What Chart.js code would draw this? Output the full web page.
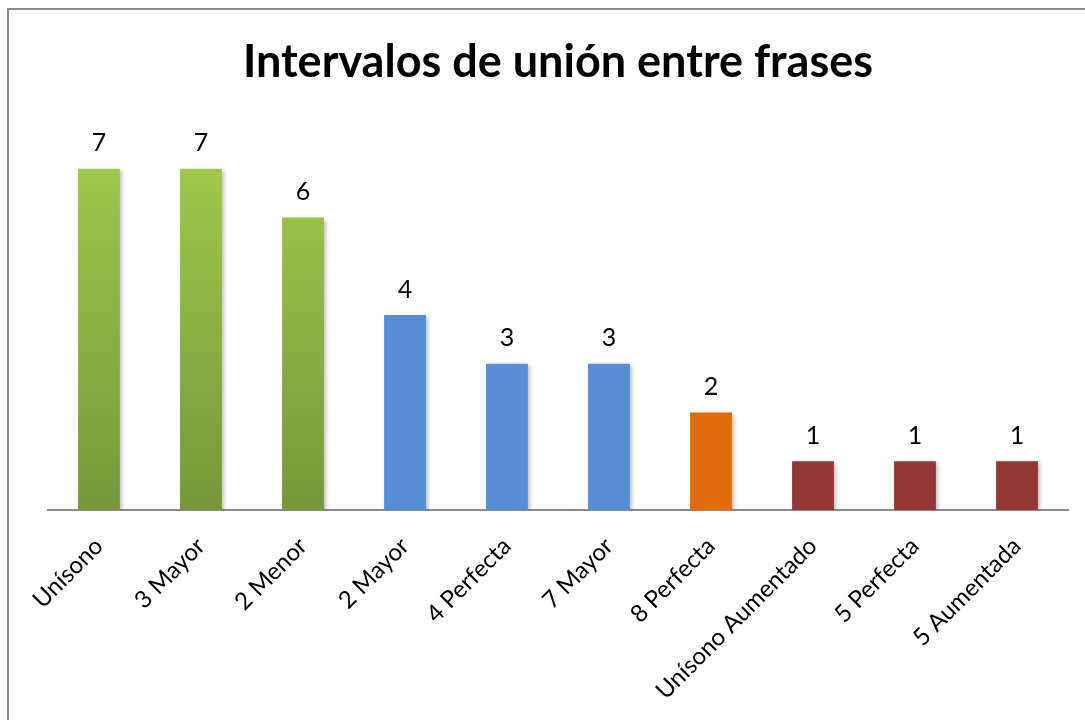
<!DOCTYPE html>
<html>
<head>
<meta charset="utf-8">
<script src="https://cdn.jsdelivr.net/npm/chart.js@4/dist/chart.umd.min.js"></script>
<style>
  body { margin: 0; background: #fff; }
  #wrap { position: relative; width: 1085px; height: 720px; }
  #frame {
    position: absolute; left: 7px; top: 8px; right: -10px; bottom: -10px;
    border-left: 2px solid #8c8c8c; border-top: 2px solid #8c8c8c;
  }
  canvas { position: absolute; left: 0; top: 0; }
</style>
</head>
<body>
<div id="wrap">
  <div id="frame"></div>
  <canvas id="chart" width="1085" height="720"></canvas>
</div>
<script>
const categories = ['Unísono', '3 Mayor', '2 Menor', '2 Mayor', '4 Perfecta',
  '7 Mayor', '8 Perfecta', 'Unísono Aumentado', '5 Perfecta', '5 Aumentada']
const counts = [7, 7, 6, 4, 3, 3, 2, 1, 1, 1]
// colour group of each bar
const groups = ['green', 'green', 'green', 'blue', 'blue', 'blue', 'orange', 'red', 'red', 'red']

const font = 'Lato'

const fillFor = (ctx, group) => {
  if (group !== 'green') {
    return { blue: '#558ed5', orange: '#e36c0a', red: '#953735' }[group]
  }
  const area = ctx.chart.chartArea
  if (!area) return '#8db348'
  const y = ctx.chart.scales.y
  const g = ctx.chart.ctx.createLinearGradient(0, y.getPixelForValue(7), 0, y.getPixelForValue(0))
  g.addColorStop(0, '#9fc74a')
  g.addColorStop(1, '#76973a')
  return g
}

const valueLabels = {
  id: 'valueLabels',
  afterDatasetsDraw(chart) {
    const { ctx } = chart
    const meta = chart.getDatasetMeta(0)
    ctx.save()
    ctx.fillStyle = '#000'
    ctx.font = `25px ${font}`
    ctx.textAlign = 'center'
    ctx.textBaseline = 'bottom'
    meta.data.forEach((bar, i) => {
      ctx.fillText(counts[i], bar.x, bar.y - 13)
    })
    ctx.restore()
  }
}

const barShadow = {
  id: 'barShadow',
  beforeDatasetsDraw(chart) {
    const { ctx } = chart
    ctx.save()
    ctx.shadowColor = 'rgba(0,0,0,0.25)'
    ctx.shadowBlur = 4
    ctx.shadowOffsetX = 2
    ctx.shadowOffsetY = 2
  },
  afterDatasetsDraw(chart) {
    chart.ctx.restore()
  }
}

new Chart(document.getElementById('chart'), {
  type: 'bar',
  data: {
    labels: categories,
    datasets: [{
      data: counts,
      backgroundColor: ctx => fillFor(ctx, groups[ctx.dataIndex]),
      categoryPercentage: 1,
      barPercentage: 0.41
    }]
  },
  options: {
    responsive: false,
    animation: false,
    layout: { padding: { left: 48, right: 17, top: 0, bottom: 0 } },
    plugins: {
      legend: { display: false },
      tooltip: { enabled: false },
      title: {
        display: true,
        text: 'Intervalos de unión entre frases',
        color: '#000',
        font: { family: font, size: 45, weight: 'bold' },
        padding: { top: 35, bottom: 31 }
      }
    },
    scales: {
      y: { display: false, min: 0, max: 8 },
      x: {
        grid: { display: false },
        border: { display: true, color: '#8c8c8c', width: 2 },
        ticks: {
          color: '#000',
          font: { family: font, size: 24 },
          maxRotation: 45,
          minRotation: 45,
          padding: 14
        },
        afterFit: s => { s.height = 210 }
      }
    }
  },
  plugins: [barShadow, valueLabels]
})
</script>
</body>
</html>
